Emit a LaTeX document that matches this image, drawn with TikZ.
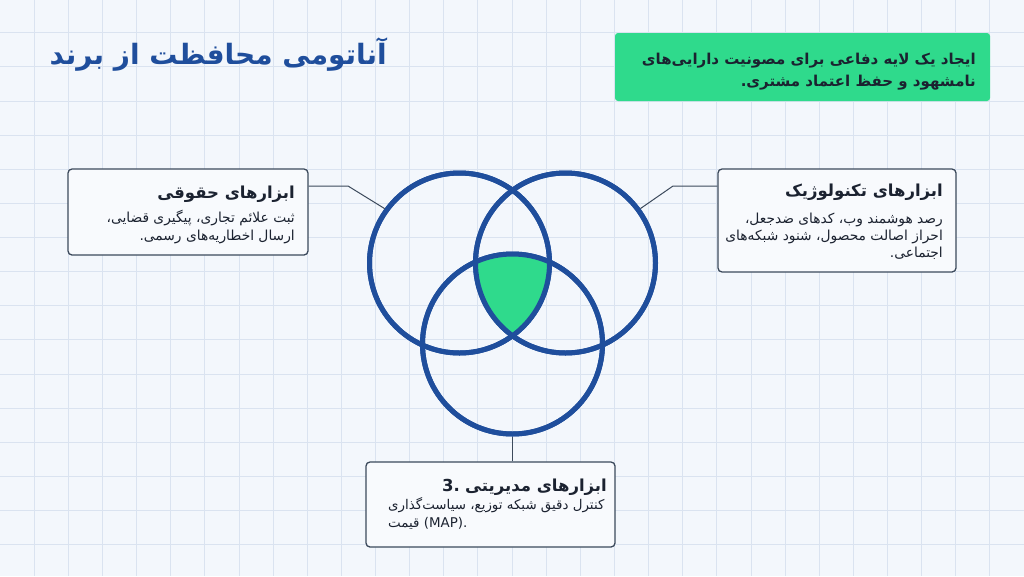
\documentclass[tikz,border=0pt]{standalone}
\usepackage{fontspec}
\setmainfont{DejaVu Sans}
\newfontfamily\fa[Script=Arabic]{DejaVu Sans}
\TeXXeTstate=1
\definecolor{bgc}{HTML}{F3F7FC}
\definecolor{gridc}{HTML}{DAE3F0}
\definecolor{venn}{HTML}{1F4E9C}
\definecolor{greenc}{HTML}{2FDA8C}
\definecolor{boxline}{HTML}{3C4A5C}
\definecolor{boxfill}{HTML}{F8FAFD}
\definecolor{txt}{HTML}{1B2230}
\tikzset{
  gridline/.style={draw=gridc, line width=0.8pt},
  vennc/.style={circle, draw=venn, line width=5pt, minimum size=180pt, inner sep=0pt},
  infobox/.style={draw=boxline, fill=boxfill, line width=1.3pt, rounded corners=4pt, inner sep=0pt},
  link/.style={draw=boxline, line width=1pt},
  headtxt/.style={font=\fa\bfseries\fontsize{16.5}{20}\selectfont, text=txt, inner sep=0pt},
  bodytxt/.style={font=\fa\fontsize{13.8}{18}\selectfont, text=txt, inner sep=0pt},
}
\begin{document}
\begin{tikzpicture}[x=1pt,y=-1pt]
\fill[bgc] (0,0) rectangle (1024,576);
\useasboundingbox (0,0) rectangle (1024,576);
\foreach \i in {1,...,29} \draw[gridline] (\i*34.133,0) -- (\i*34.133,576);
\foreach \j in {1,...,16} \draw[gridline] (0,\j*34.133-1.5) -- (1024,\j*34.133-1.5);

% title
\node[anchor=base east, inner sep=0pt, text=venn, font=\fa\bfseries\fontsize{28}{34}\selectfont] (title) at (387,64) {\beginR آناتومی محافظت از برند\endR};

% green box
\node[fill=greenc, rounded corners=3pt, minimum width=375pt, minimum height=68pt, inner sep=0pt] (gbox) at (802.5,67) {};
\node[anchor=north east, align=right, inner sep=0pt, text=txt, font=\fa\bfseries\fontsize{15}{22}\selectfont] (gtext) at (976,53)
  {\beginR ایجاد یک لایه دفاعی برای مصونیت دارایی‌های\endR\\ \beginR نامشهود و حفظ اعتماد مشتری.\endR};

% venn circles
\node[vennc] (c1) at (459.5,263) {};
\node[vennc] (c2) at (565.5,263) {};
\node[vennc] (c3) at (512.5,344) {};
\begin{scope}
  \clip (c1.center) circle[radius=90pt];
  \clip (c2.center) circle[radius=90pt];
  \fill[greenc] (c3.center) circle[radius=90pt];
\end{scope}
\draw[venn, line width=5pt] (c1.center) circle[radius=90pt];
\draw[venn, line width=5pt] (c2.center) circle[radius=90pt];
\draw[venn, line width=5pt] (c3.center) circle[radius=90pt];

% boxes
\node[infobox, minimum width=240pt, minimum height=86pt] (lbox) at (188,212) {};
\node[infobox, minimum width=238pt, minimum height=103pt] (rbox) at (837,220.5) {};
\node[infobox, minimum width=249pt, minimum height=85pt] (bbox) at (490.5,504.5) {};

% connectors
\coordinate (lj) at (348,186);
\coordinate (rj) at (673,186);
\draw[link] (lbox.east |- lj) -- (lj) -- (c1.144);
\draw[link] (rbox.west |- rj) -- (rj) -- (c2.36);
\draw[link] (c3.south) -- (c3.south |- bbox.north);

% left box text
\node[headtxt, anchor=base east] (lhead) at (295,198) {\beginR ابزارهای حقوقی\endR};
\node[bodytxt, anchor=north east, align=right] (lbody) at (295,210)
  {\beginR ثبت علائم تجاری، پیگیری قضایی،\endR\\ \beginR ارسال اخطاریه‌های رسمی.\endR};

% right box text
\node[headtxt, anchor=base east] (rhead) at (943,196) {\beginR ابزارهای تکنولوژیک\endR};
\node[bodytxt, anchor=north east, align=right] (rbody) at (943,213)
  {\beginR رصد هوشمند وب، کدهای ضدجعل،\endR\\[-1pt] \beginR احراز اصالت محصول، شنود شبکه‌های\endR\\[-1pt] \beginR اجتماعی.\endR};

% bottom box text
\node[headtxt, anchor=base east] (bhead) at (607,491) {\beginR ابزارهای مدیریتی\endR};
\node[inner sep=0pt, text=txt, font=\bfseries\fontsize{16.5}{20}\selectfont, anchor=base east] (bnum) at ([xshift=-5pt]bhead.base west) {3.};
\node[bodytxt, font=\fa\fontsize{13.4}{18}\selectfont, anchor=north west, align=left] (bbody) at (388,497)
  {\beginR کنترل دقیق شبکه توزیع، سیاست‌گذاری\endR\\ \beginR قیمت\endR{} (MAP).};
\end{tikzpicture}
\end{document}
